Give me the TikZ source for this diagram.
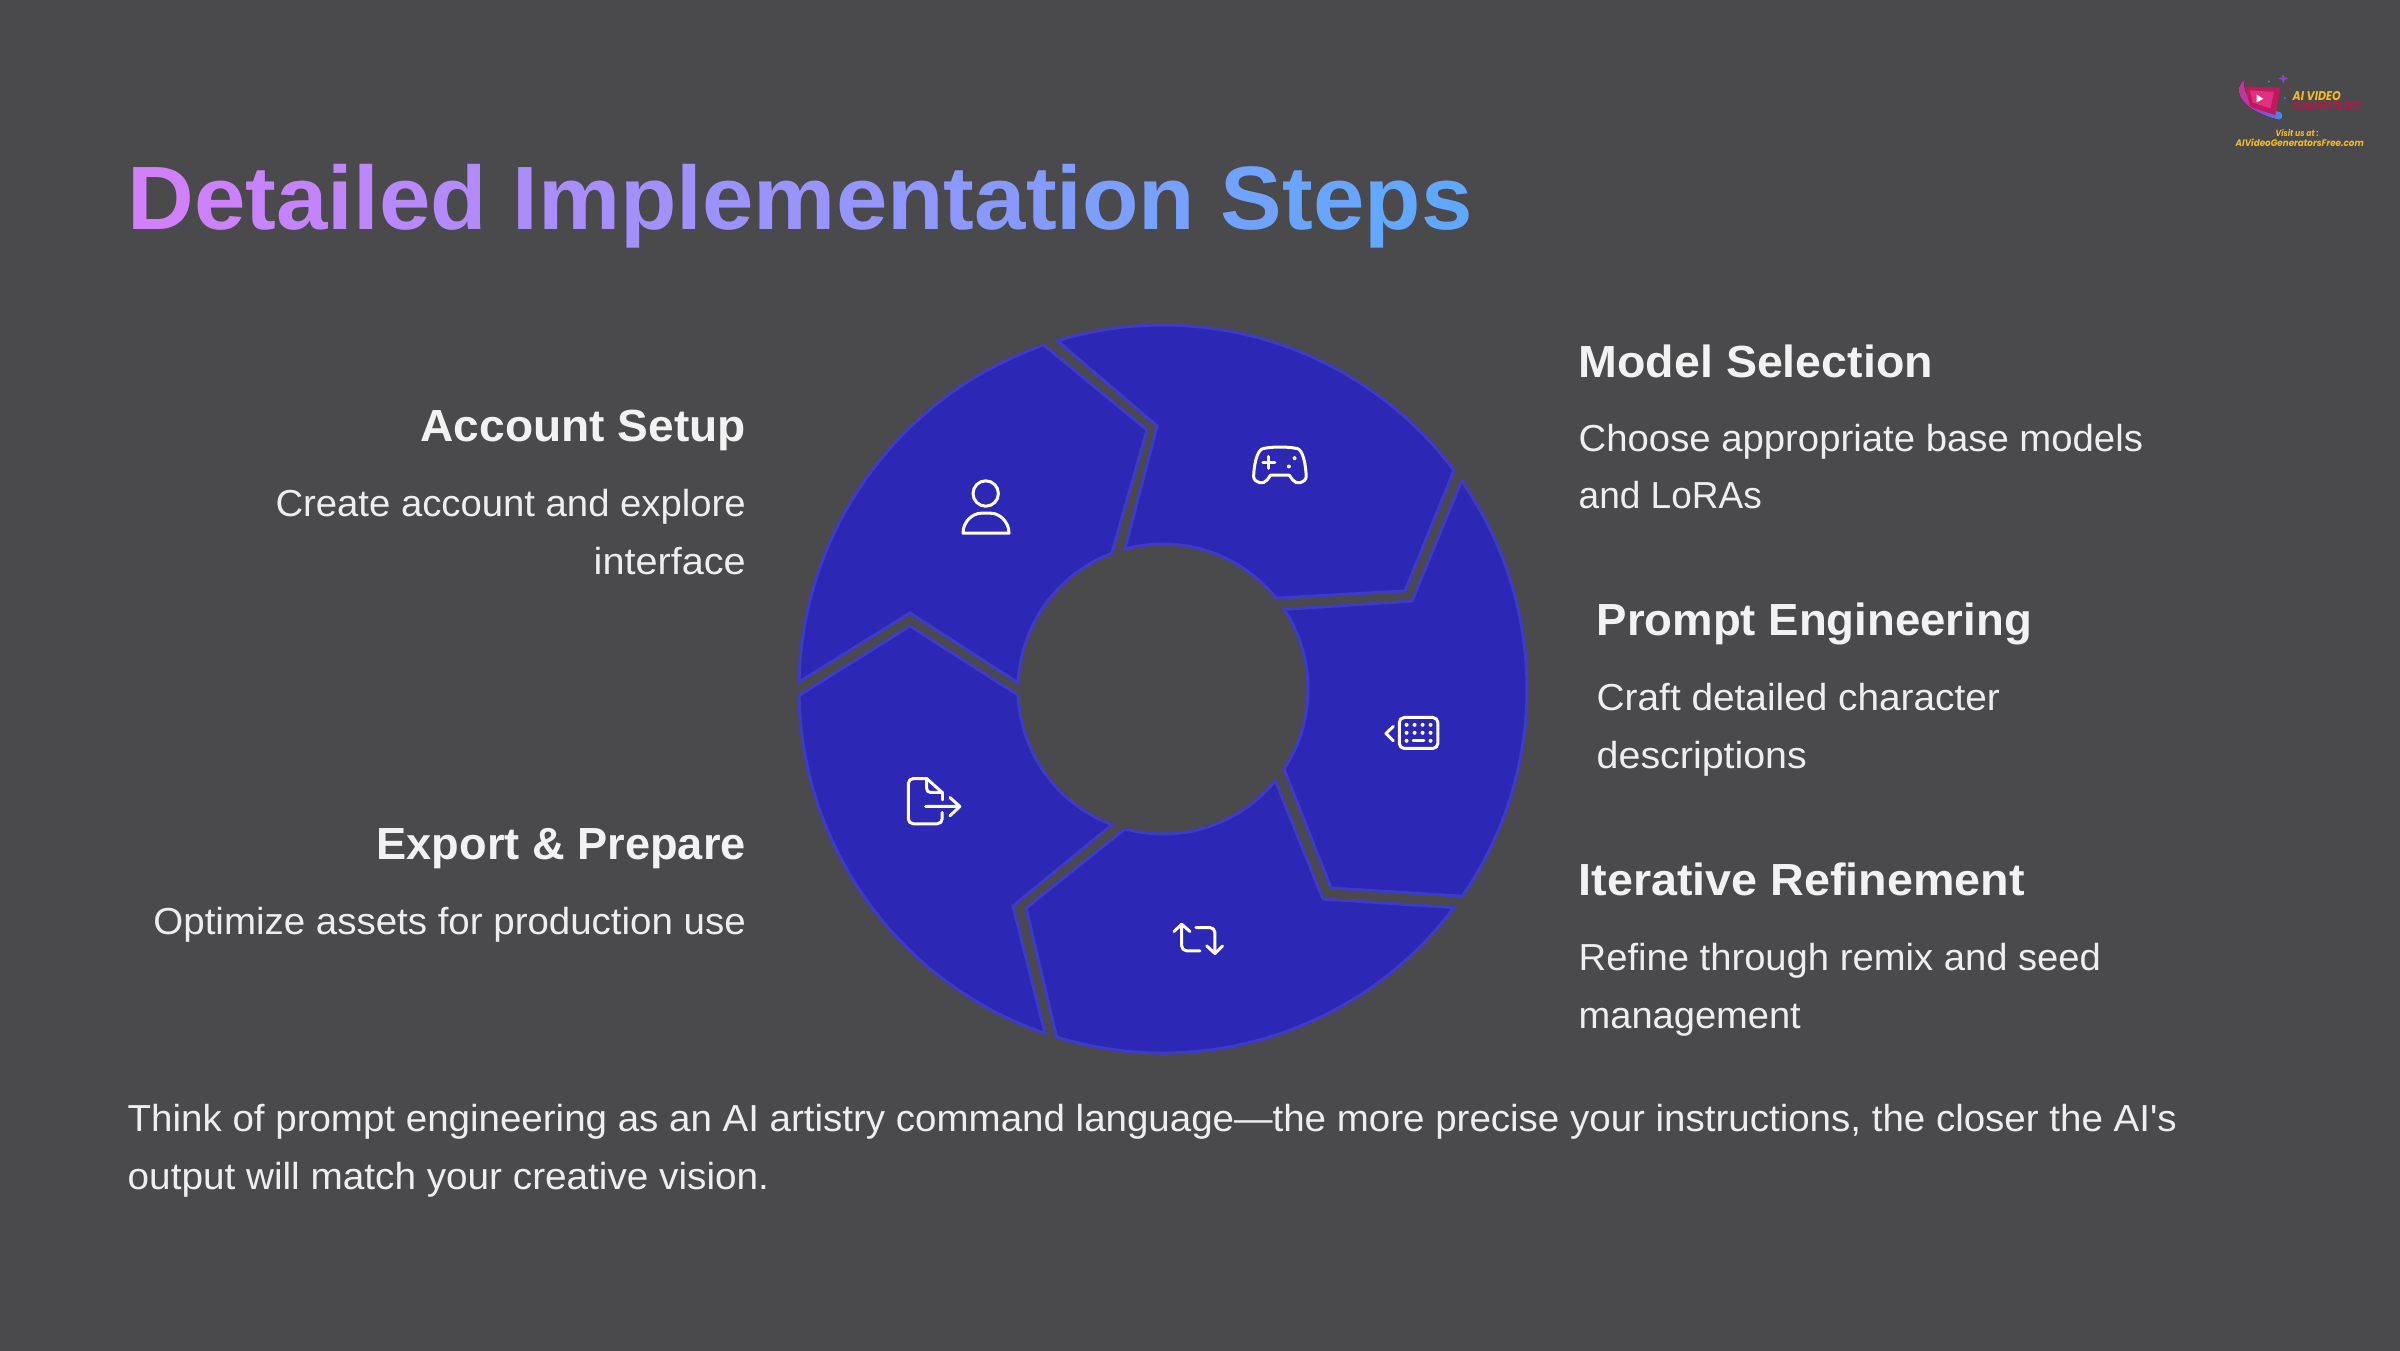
\documentclass[tikz,border=0pt]{standalone}
\usepackage{fontspec}
\usepackage{graphicx}
\setmainfont{Liberation Sans}
\newfontfamily\logofont{Poppins}
\usetikzlibrary{shadings}
\definecolor{bgc}{HTML}{4A494B}
\definecolor{segfill}{HTML}{2C27B5}
\definecolor{segline}{HTML}{3E3CC6}
\definecolor{headc}{HTML}{F2F2F2}
\definecolor{bodyc}{HTML}{EEEEEE}
\definecolor{tA}{HTML}{D080F8}
\definecolor{tB}{HTML}{60A8FF}
\definecolor{logoy}{HTML}{F2B92B}
\definecolor{logor}{HTML}{B5184A}
\definecolor{logop}{HTML}{E0307F}
\definecolor{logoq}{HTML}{C2185B}
\definecolor{logov}{HTML}{8E44C8}
\definecolor{logob}{HTML}{3F8FE8}
\newsavebox\fitbox
\newcommand\fitw[2]{\sbox\fitbox{#2}\pgfmathsetmacro\fitr{#1*0.2845274/\wd\fitbox}\scalebox{\fitr}[1]{\usebox\fitbox}}
\newcommand\hd[2]{\fitw{#1}{\fontsize{12.8pt}{14pt}\selectfont\bfseries #2}}
\newcommand\bd[2]{\fitw{#1}{\fontsize{10.7pt}{12pt}\selectfont #2}}
\newcount\gc
\newcommand\G[1]{\pgfmathtruncatemacro\gp{100-\the\gc*100/28}{\color{tA!\gp!tB}#1}\global\advance\gc by 1 }
\tikzset{
 seg/.style={fill=segfill,draw=segline,line width=0.03cm,line join=miter},
 ico/.style={draw=white,line width=0.03cm,line cap=round,line join=round},
 dot/.style={fill=white,draw=none},
 hl/.style={inner sep=0pt,text=headc,anchor=base west},
 hr/.style={inner sep=0pt,text=headc,anchor=base east},
 bl/.style={inner sep=0pt,text=bodyc,anchor=base west},
 br/.style={inner sep=0pt,text=bodyc,anchor=base east},
 lg/.style={inner sep=0pt,anchor=base west},
}
\begin{document}
\begin{tikzpicture}[x=0.01cm,y=0.01cm]
\useasboundingbox (0,0) rectangle (2400,1350);
\fill[bgc] (-10,-10) rectangle (2410,1360);
% title
\node[inner sep=0pt,anchor=base west] (title) at (127,1121) {\fitw{1344}{\fontsize{25.6pt}{30pt}\selectfont\bfseries\global\gc=0 \G D\G e\G t\G a\G i\G l\G e\G d\G{\ }\G I\G m\G p\G l\G e\G m\G e\G n\G t\G a\G t\G i\G o\G n\G{\ }\G S\G t\G e\G p\G s}};
% wheel
\begin{scope}[shift={(1163,661)}]
\draw[seg] (106.9:364) arc[start angle=106.9,end angle=36.9,radius=364] -- (242,98) -- (38.8:145) arc[start angle=38.8,end angle=105.3,radius=145] -- (-6,263) -- cycle;
\draw[seg] (34.9:364) arc[start angle=34.9,end angle=-34.7,radius=364] -- (168,-199) -- (-33.5:145) arc[start angle=-33.5,end angle=33.3,radius=145] -- (249,88) -- cycle;
\draw[seg] (-36.9:364) arc[start angle=-36.9,end angle=-107,radius=364] -- (-137,-219) -- (-105.2:145) arc[start angle=-105.2,end angle=-39.2,radius=145] -- (160,-210) -- cycle;
\draw[seg] (251.1:364) arc[start angle=251.1,end angle=181,radius=364] -- (-253,63) -- (182.4:145) arc[start angle=182.4,end angle=249.4,radius=145] -- (-150,-217) -- cycle;
\draw[seg] (178.9:364) arc[start angle=178.9,end angle=109.1,radius=364] -- (-16,259) -- (110.7:145) arc[start angle=110.7,end angle=177.6,radius=145] -- (-253,76) -- cycle;
\end{scope}
% icons: drawn in reference pixels, y downward
\begin{scope}[y=-0.01cm,yshift=13.5cm]
% person
\draw[ico] (985.7,494.3) circle[radius=12.7];
\draw[ico] (963,534) .. controls (963,522) and (973,514) .. (981,514) -- (991,514) .. controls (999,514) and (1009,522) .. (1009,534) -- cycle;
% gamepad
\begin{scope}[shift={(1220,420)},x=0.00333cm,y=-0.00333cm]
\draw[ico] (130,88) .. controls (160,82) and (200,82) .. (232,88) .. controls (250,92) and (258,140) .. (259,172) .. controls (258,192) and (228,198) .. (218,182) -- (208,168) -- (152,168) -- (142,182) .. controls (132,198) and (102,192) .. (101,172) .. controls (102,140) and (110,92) .. (130,88) -- cycle;
\draw[ico] (129,130) -- (165,130) (147,112) -- (147,148);
\fill[dot] (224,117) circle[radius=6] (207,142) circle[radius=6];
\end{scope}
% keyboard
\begin{scope}[shift={(1340,680)},x=0.00333cm,y=-0.00333cm]
\draw[ico,rounded corners=0.05cm] (178,115) rectangle (294,208);
\draw[ico] (160,142) -- (138,163) -- (160,185);
\draw[ico] (220,185) -- (252,185);
\foreach \dx in {200,224,248,272}{\fill[dot] (\dx,137) circle[radius=6] (\dx,161) circle[radius=6];}
\fill[dot] (200,185) circle[radius=6] (272,185) circle[radius=6];
\end{scope}
% export
\begin{scope}[shift={(880,750)},x=0.00333cm,y=-0.00333cm]
\draw[ico,rounded corners=0.05cm] (187,190) -- (187,224) -- (85,224) -- (85,88) -- (140,88);
\draw[ico] (140,88) -- (187,130);
\draw[ico,rounded corners=0.04cm] (140,88) -- (140,130) -- (187,130);
\draw[ico] (187,130) -- (187,152);
\draw[ico] (137,172) -- (240,172) (210,145) -- (240,172) -- (210,200);
\end{scope}
% repeat
\begin{scope}[shift={(1150,900)},x=0.00333cm,y=-0.00333cm]
\draw[ico] (72,97) -- (95,75) -- (120,97);
\draw[ico,rounded corners=0.05cm] (95,75) -- (95,155) -- (150,155);
\draw[ico,rounded corners=0.05cm] (138,85) -- (195,85) -- (195,163);
\draw[ico] (170,140) -- (195,163) -- (218,140);
\end{scope}
% logo
\begin{scope}[shift={(2200,50)},x=0.00333cm,y=-0.00333cm]
\fill[left color=logop,right color=logob,middle color=logov] (135,92) .. controls (98,112) and (110,182) .. (238,212) .. controls (252,208) and (250,192) .. (240,188) .. controls (170,176) and (122,140) .. (135,92) -- cycle;
\fill[logoq] (136,112) -- (242,115) -- (226,198) -- (150,172) -- cycle;
\fill[logop] (150,124) -- (222,128) -- (212,178) -- (158,160) -- cycle;
\fill[white] (170,136) -- (190,149) -- (170,160) -- cycle;
\fill[logov] (250,74) -- (254,84) -- (265,88) -- (254,92) -- (250,103) -- (246,92) -- (235,88) -- (246,84) -- cycle;
\fill[logob] (207,97) circle[radius=3] (255,147) circle[radius=3];
\fill[logor] (267,112) circle[radius=4];
\end{scope}
\end{scope}
\node[lg,text=logoy] (lgA) at (2292,1249) {\fitw{48}{\logofont\fontsize{3.6pt}{4pt}\selectfont\bfseries\itshape AI VIDEO}};
\node[lg,text=logor] (lgB) at (2292,1241) {\fitw{68}{\logofont\fontsize{3pt}{4pt}\selectfont\bfseries\itshape GENERATORS FREE}};
\node[lg,text=logoy] (lgC) at (2275,1214) {\fitw{43}{\logofont\fontsize{2.5pt}{3pt}\selectfont\bfseries\itshape Visit us at :}};
\node[lg,text=logoy] (lgD) at (2235,1203) {\fitw{128}{\logofont\fontsize{2.7pt}{3pt}\selectfont\bfseries\itshape AIVideoGeneratorsFree.com}};
% right
\node[hl] (h1) at (1578,972.5) {\hd{354}{Model Selection}};
\node[bl] (b1a) at (1578,899) {\bd{564}{Choose appropriate base models}};
\node[bl] (b1b) at (1578,842) {\bd{183}{and LoRAs}};
\node[hl] (h2) at (1596,714.5) {\hd{435}{Prompt Engineering}};
\node[bl] (b2a) at (1596,640) {\bd{403}{Craft detailed character}};
\node[bl] (b2b) at (1596,582) {\bd{210}{descriptions}};
\node[hl] (h3) at (1578,454.5) {\hd{446}{Iterative Refinement}};
\node[bl] (b3a) at (1578,380) {\bd{522}{Refine through remix and seed}};
\node[bl] (b3b) at (1578,322) {\bd{222}{management}};
% left
\node[hr] (h4) at (746.5,908.5) {\hd{325}{Account Setup}};
\node[br] (b4a) at (746.5,834) {\bd{470}{Create account and explore}};
\node[br] (b4b) at (746.5,776) {\bd{152}{interface}};
\node[hr] (h5) at (746.5,490.5) {\hd{369}{Export \& Prepare}};
\node[br] (b5a) at (746.5,416) {\bd{592}{Optimize assets for production use}};
% bottom
\node[bl] (f1) at (127,219) {\bd{2048}{Think of prompt engineering as an AI artistry command language—the more precise your instructions, the closer the AI\textquotesingle s}};
\node[bl] (f2) at (127,161) {\bd{641}{output will match your creative vision.}};
\end{tikzpicture}
\end{document}
